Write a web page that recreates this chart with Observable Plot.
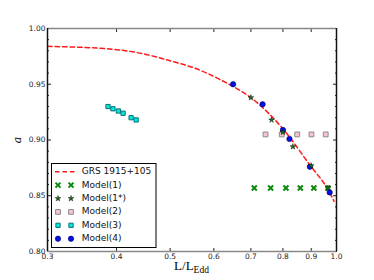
<!DOCTYPE html>
<html><head><meta charset="utf-8">
<script src="https://cdn.jsdelivr.net/npm/d3@7"></script>
<script src="https://cdn.jsdelivr.net/npm/@observablehq/plot@0.6"></script>
<style>body{margin:0;background:#fff;} svg{display:block}</style>
</head><body><div id="chart"></div>
<script>
// GRS 1915+105 curve
const curveL = [0.30,0.35,0.40,0.45,0.50,0.55,0.60,0.65,0.70,0.75,0.80,0.85,0.90,0.95,0.99];
const curveA = [0.984,0.983,0.981,0.977,0.971,0.965,0.957,0.948,0.938,0.925,0.910,0.893,0.876,0.861,0.845];
// Model points
const m1L = [0.71,0.76,0.81,0.86,0.91,0.965];
const m1A = [0.857,0.857,0.857,0.857,0.857,0.857];
const m1sL = [0.70,0.763,0.80,0.834,0.90,0.965];
const m1sA = [0.938,0.918,0.907,0.894,0.877,0.857];
const m2L = [0.744,0.796,0.849,0.901,0.956];
const m2A = [0.905,0.905,0.905,0.905,0.905];
const m3L = [0.386,0.394,0.403,0.411,0.425,0.434];
const m3A = [0.930,0.928,0.926,0.924,0.920,0.918];
const m4L = [0.65,0.735,0.80,0.822,0.895,0.972];
const m4A = [0.950,0.932,0.909,0.901,0.876,0.853];
// axes
const xDomain = [0.3, 1.0];
const yDomain = [0.80, 1.00];
const xTicks = [0.3,0.4,0.5,0.6,0.7,0.8,0.9,1.0];
const xTickLabels = ["0.3","0.4","0.5","0.6","0.7","0.8","0.9","1.0"];
const yTicks = [0.80,0.85,0.90,0.95,1.00];
const yTickLabels = ["0.80","0.85","0.90","0.95","1.00"];
const yMinor = [0.81,0.82,0.83,0.84,0.86,0.87,0.88,0.89,0.91,0.92,0.93,0.94,0.96,0.97,0.98,0.99];
const seriesNames = ["GRS 1915+105","Model(1)","Model(1*)","Model(2)","Model(3)","Model(4)"];
const xLabelMain = "L/L", xLabelSub = "Edd", yLabel = "a";

const zip = (L, A) => L.map((l, i) => ({L: l, a: A[i]}));
const styles = {
  m1: {symbol: "times", stroke: "#0a8a0a", fill: "none", strokeWidth: 2, r: 2.4},
  m1s: {symbol: "star", fill: "#236b23", stroke: "#0a200a", strokeWidth: 0.5, r: 1.8},
  m2: {symbol: "square", fill: "#f7c6cc", stroke: "#8a8a8a", strokeWidth: 1, r: 2.7},
  m3: {symbol: "square", fill: "#00e8e8", stroke: "#0a7070", strokeWidth: 1, r: 2.4},
  m4: {symbol: "circle", fill: "#0010e0", stroke: "#000080", strokeWidth: 0.6, r: 2.7}
};
const yfmt = d => yTickLabels[yTicks.indexOf(d)];
const blank = () => "";

const plot = Plot.plot({
  width: 374, height: 280,
  marginLeft: 47, marginRight: 38, marginTop: 28, marginBottom: 29,
  style: {fontFamily: "DejaVu Sans", fontSize: "7.5px", color: "#222", background: "#fff"},
  x: {type: "log", domain: xDomain},
  y: {domain: yDomain},
  marks: [
    Plot.axisX(xTicks, {anchor: "bottom", tickSize: -3, tickFormat: blank, label: null}),
    Plot.text(xTicks, {x: d => d, text: (d, i) => xTickLabels[i], frameAnchor: "bottom",
      lineAnchor: "top", dy: 2.5, fill: "#222", fontSize: 7.5}),
    Plot.axisX(xTicks, {anchor: "top", tickSize: -3, tickFormat: blank, label: null}),
    Plot.axisY(yTicks, {anchor: "left", tickSize: -4, tickPadding: 6, tickFormat: yfmt, label: null}),
    Plot.axisY(yMinor, {anchor: "left", tickSize: -2, tickFormat: blank, label: null}),
    Plot.axisY(yTicks, {anchor: "right", tickSize: -4, tickFormat: blank, label: null}),
    Plot.axisY(yMinor, {anchor: "right", tickSize: -2, tickFormat: blank, label: null}),
    Plot.line(zip(curveL, curveA), {x: "L", y: "a", curve: "natural", stroke: "#ff1a1a", strokeWidth: 1.5, strokeDasharray: "4.5,3"}),
    Plot.dot(zip(m1L, m1A), {x: "L", y: "a", ...styles.m1}),
    Plot.dot(zip(m2L, m2A), {x: "L", y: "a", ...styles.m2}),
    Plot.dot(zip(m3L, m3A), {x: "L", y: "a", ...styles.m3}),
    Plot.dot(zip(m4L, m4A), {x: "L", y: "a", ...styles.m4}),
    Plot.dot(zip(m1sL, m1sA), {x: "L", y: "a", ...styles.m1s}),
    Plot.ruleY(yDomain, {stroke: "#888", strokeWidth: 1.5}),
    Plot.ruleX(xDomain, {stroke: "#111", strokeWidth: 1.5})
  ]
});
document.getElementById("chart").appendChild(plot);

// axis titles and legend
const svg = d3.select(plot);
svg.append("text").attr("transform", "translate(18,140) rotate(-90)")
  .attr("text-anchor", "middle").attr("dominant-baseline", "middle")
  .style("font", "italic 11px 'DejaVu Serif'").attr("fill", "#000").text(yLabel);
const xl = svg.append("text").attr("x", 191.5).attr("y", 270).attr("text-anchor", "middle")
  .style("font", "13px 'Liberation Serif'").attr("fill", "#000");
xl.append("tspan").text(xLabelMain);
xl.append("tspan").attr("dy", 3).style("font-size", "9.5px").text(xLabelSub);

const lg = svg.append("g").attr("text-anchor", "start");
lg.append("rect").attr("x", 51.5).attr("y", 163.5).attr("width", 104.5).attr("height", 84)
  .attr("fill", "#fff").attr("stroke", "#000").attr("stroke-width", 1);
const symMap = {times: d3.symbolTimes, star: d3.symbolStar, square: d3.symbolSquare, circle: d3.symbolCircle};
const keys = [null, "m1", "m1s", "m2", "m3", "m4"];
seriesNames.forEach((name, i) => {
  const y = 171.7 + i * 13.4;
  if (i === 0) {
    lg.append("line").attr("x1", 55).attr("x2", 75).attr("y1", y).attr("y2", y)
      .attr("stroke", "#ff1a1a").attr("stroke-width", 1.5).attr("stroke-dasharray", "4.5,3");
  } else {
    const s = styles[keys[i]];
    const p = d3.symbol(symMap[s.symbol], Math.PI * s.r * s.r)();
    [58, 71].forEach(x => lg.append("path").attr("d", p).attr("transform", `translate(${x},${y})`)
      .attr("fill", s.fill).attr("stroke", s.stroke).attr("stroke-width", s.strokeWidth));
  }
  lg.append("text").attr("x", 81.7).attr("y", y).attr("dominant-baseline", "middle")
    .attr("text-anchor", "start")
    .style("font", "9px 'DejaVu Sans'").attr("fill", "#111").text(name);
});
</script></body></html>
